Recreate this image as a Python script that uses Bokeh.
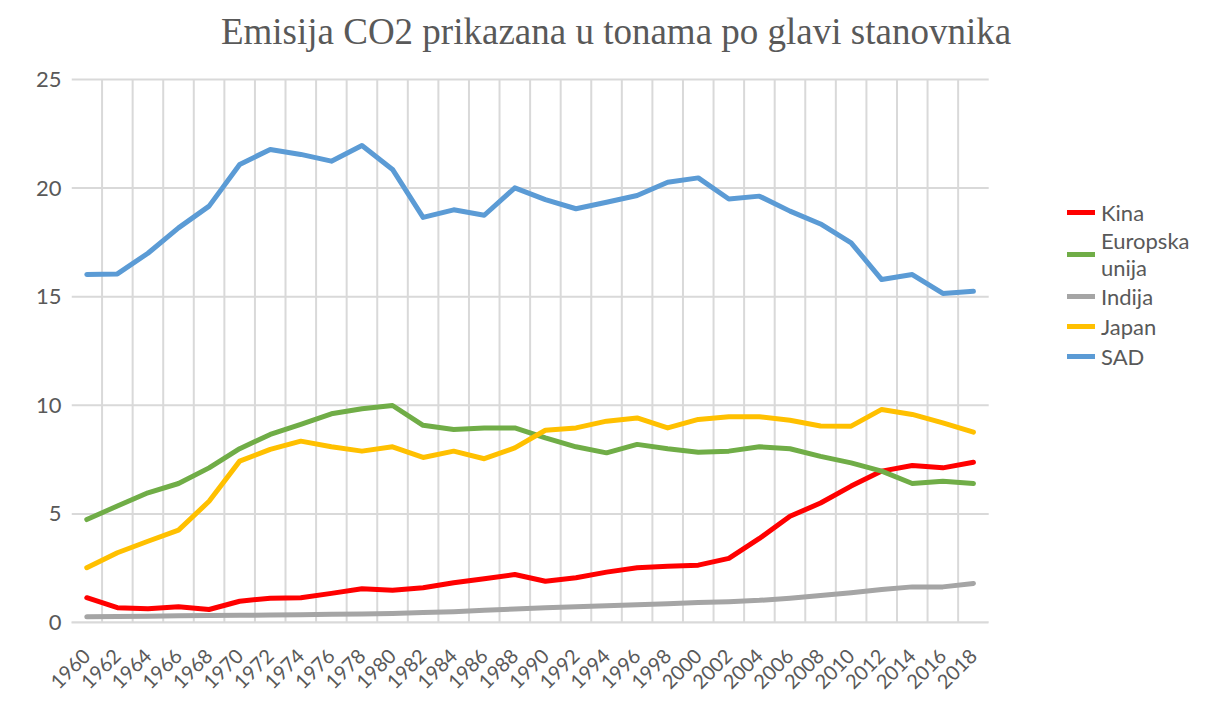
import math
from bokeh.plotting import figure
from bokeh.models import Range1d, FixedTicker, Legend, LegendItem, Label
from bokeh.embed import file_html
from bokeh.resources import INLINE

years = [1960, 1962, 1964, 1966, 1968, 1970, 1972, 1974, 1976, 1978,
         1980, 1982, 1984, 1986, 1988, 1990, 1992, 1994, 1996, 1998,
         2000, 2002, 2004, 2006, 2008, 2010, 2012, 2014, 2016, 2018]

kina = [1.14, 0.68, 0.63, 0.72, 0.60, 0.98, 1.12, 1.14, 1.34, 1.55,
        1.49, 1.60, 1.83, 2.01, 2.21, 1.90, 2.06, 2.32, 2.52, 2.59,
        2.64, 2.95, 3.87, 4.89, 5.50, 6.28, 6.97, 7.23, 7.12, 7.38]
eu = [4.74, 5.36, 5.97, 6.40, 7.12, 8.00, 8.66, 9.12, 9.61, 9.84,
      9.99, 9.08, 8.89, 8.96, 8.96, 8.50, 8.09, 7.81, 8.20, 8.00,
      7.84, 7.89, 8.09, 8.00, 7.65, 7.35, 6.97, 6.40, 6.50, 6.40]
indija = [0.26, 0.28, 0.29, 0.31, 0.32, 0.33, 0.34, 0.36, 0.38, 0.39,
          0.42, 0.46, 0.50, 0.56, 0.62, 0.68, 0.72, 0.77, 0.82, 0.86,
          0.92, 0.96, 1.02, 1.12, 1.24, 1.37, 1.52, 1.64, 1.64, 1.80]
japan = [2.52, 3.21, 3.74, 4.25, 5.58, 7.43, 7.97, 8.35, 8.09, 7.89,
         8.09, 7.60, 7.89, 7.54, 8.04, 8.85, 8.96, 9.27, 9.42, 8.96,
         9.35, 9.47, 9.47, 9.31, 9.05, 9.04, 9.81, 9.58, 9.19, 8.76]
sad = [16.02, 16.05, 17.00, 18.17, 19.17, 21.09, 21.78, 21.55, 21.24, 21.96,
       20.86, 18.65, 19.00, 18.75, 20.01, 19.47, 19.05, 19.35, 19.66, 20.27,
       20.47, 19.50, 19.63, 18.94, 18.35, 17.48, 15.79, 16.02, 15.15, 15.25]

series_names = ["Kina", "Europska\nunija", "Indija", "Japan", "SAD"]
series_values = [kina, eu, indija, japan, sad]
series_colors = ["#FF0000", "#70AD47", "#A5A5A5", "#FFC000", "#5B9BD5"]
y_ticks = [0, 5, 10, 15, 20, 25]
title_text = "Emisija CO2 prikazana u tonama po glavi stanovnika"

GRID = "#d9d9d9"
TEXT = "#595959"

x_lo = years[0] - 1
x_hi = years[-1] + 1
y_top = y_ticks[-1]

# The frame covers the whole canvas to the right and top so that the legend
# and the title (drawn as annotations) are not clipped; gridlines and the
# axis line are limited to the category area.
p = figure(width=1195, height=699, output_backend="svg", toolbar_location=None,
           title=None,
           x_range=Range1d(x_lo, 2032.2), y_range=Range1d(0, 28.637),
           min_border_left=71, min_border_top=0, min_border_bottom=77,
           min_border_right=5)
p.outline_line_color = None
p.background_fill_color = "white"
p.border_fill_color = "white"

# horizontal gridlines
p.segment(x0=[x_lo] * len(y_ticks), x1=[x_hi] * len(y_ticks),
          y0=y_ticks, y1=y_ticks, line_color=GRID, line_width=2)
# vertical gridlines between the categories
vx = [y + 1 for y in years[:-1]]
p.segment(x0=vx, x1=vx, y0=[0] * len(vx), y1=[y_top] * len(vx),
          line_color=GRID, line_width=2)

items = []
for name, vals, col in zip(series_names, series_values, series_colors):
    r = p.line(years, vals, line_color=col, line_width=5,
               line_join="round", line_cap="round")
    items.append(LegendItem(label=name, renderers=[r]))

# title (screen units measured from the frame's bottom-left corner)
title = Label(x=544.5, y=591, x_units="screen", y_units="screen",
              text=title_text, text_font="Liberation Serif",
              text_font_size="37px", text_color=TEXT,
              text_align="center", text_baseline="alphabetic")
p.add_layout(title)

# x axis
p.xaxis.ticker = FixedTicker(ticks=years)
p.xaxis.bounds = (x_lo, x_hi)
p.xaxis.major_label_orientation = math.pi / 4
p.xaxis.major_tick_line_color = None
p.xaxis.minor_tick_line_color = None
p.xaxis.axis_line_color = GRID
p.xaxis.axis_line_width = 2
p.xaxis.major_label_text_font = "Lato"
p.xaxis.major_label_text_font_size = "20px"
p.xaxis.major_label_text_color = TEXT
p.xaxis.major_label_standoff = 24
p.xgrid.grid_line_color = None

# y axis
p.yaxis.ticker = FixedTicker(ticks=y_ticks)
p.yaxis.axis_line_color = None
p.yaxis.major_tick_line_color = None
p.yaxis.minor_tick_line_color = None
p.yaxis.major_label_text_font = "Lato"
p.yaxis.major_label_text_font_size = "22px"
p.yaxis.major_label_text_color = TEXT
p.yaxis.major_label_standoff = 4
p.ygrid.grid_line_color = None

legend = Legend(items=items, location=(996, 251), orientation="vertical",
                border_line_color=None, background_fill_alpha=0,
                padding=0, spacing=0, margin=0,
                glyph_width=28, glyph_height=30, label_height=30,
                label_standoff=6,
                label_text_font="Lato", label_text_font_size="22px",
                label_text_color=TEXT)
p.add_layout(legend)

open("out.html", "w").write(file_html(p, INLINE))
